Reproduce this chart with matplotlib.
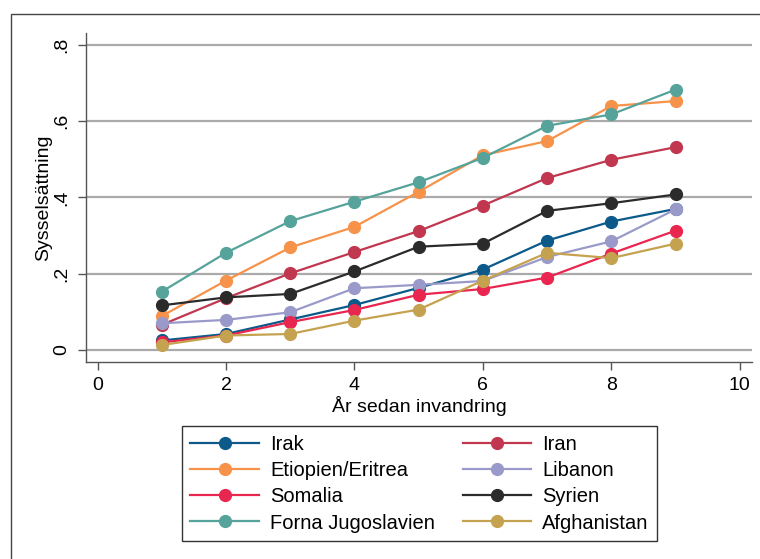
import matplotlib
matplotlib.use("Agg")
import matplotlib.pyplot as plt
from matplotlib.patches import Rectangle

plt.rcParams["font.family"] = ["Liberation Sans", "DejaVu Sans"]

years = [1, 2, 3, 4, 5, 6, 7, 8, 9]

irak = [0.025, 0.042, 0.080, 0.118, 0.163, 0.211, 0.287, 0.337, 0.370]
iran = [0.066, 0.136, 0.201, 0.257, 0.312, 0.379, 0.451, 0.499, 0.532]
etiopien = [0.089, 0.182, 0.269, 0.323, 0.415, 0.511, 0.548, 0.640, 0.653]
libanon = [0.070, 0.079, 0.099, 0.162, 0.171, 0.181, 0.244, 0.285, 0.369]
somalia = [0.020, 0.038, 0.073, 0.105, 0.145, 0.160, 0.190, 0.253, 0.313]
syrien = [0.117, 0.138, 0.147, 0.206, 0.271, 0.279, 0.365, 0.385, 0.408]
jugoslavien = [0.153, 0.255, 0.338, 0.389, 0.440, 0.504, 0.588, 0.618, 0.683]
afghanistan = [0.013, 0.038, 0.042, 0.077, 0.106, 0.182, 0.255, 0.241, 0.279]

series = [
    ("Irak", irak, "#0b5a8a"),
    ("Iran", iran, "#c0374f"),
    ("Etiopien/Eritrea", etiopien, "#f6924a"),
    ("Libanon", libanon, "#9a9aca"),
    ("Somalia", somalia, "#e8264f"),
    ("Syrien", syrien, "#2b2b2b"),
    ("Forna Jugoslavien", jugoslavien, "#55a39a"),
    ("Afghanistan", afghanistan, "#c5a24f"),
]

W, H = 760, 559
fig = plt.figure(figsize=(W / 100, H / 100), dpi=100)

# outer graph frame (cropped on the right and bottom)
fig.patches.append(Rectangle((11 / W, -0.2), 1.2, 1 - 14 / H + 0.2,
                             transform=fig.transFigure, fill=False,
                             edgecolor="#444444", linewidth=1.0))

ax = fig.add_axes([86 / W, 1 - 362 / H, (752 - 86) / W, (362 - 33) / H])

handles = {}
for name, vals, col in series:
    (h,) = ax.plot(years, vals, color=col, linewidth=1.6, marker="o",
                   markersize=8.5, label=name)
    handles[name] = h

ax.set_xlim(-0.18, 10.19)
ax.set_ylim(-0.0315, 0.8315)

yt = [0, 0.2, 0.4, 0.6, 0.8]
ax.set_yticks(yt)
ax.set_yticklabels(["0", ".2", ".4", ".6", ".8"], rotation=90, va="center")
ax.set_xticks([0, 2, 4, 6, 8, 10])
for y in yt:
    ax.axhline(y, color="#aaaaaa", linewidth=1.6, zorder=0)

for s in ["top", "right"]:
    ax.spines[s].set_visible(False)
for s in ["left", "bottom"]:
    ax.spines[s].set_color("#555555")
    ax.spines[s].set_linewidth(1.0)

ax.tick_params(direction="out", length=6, width=1.0, color="#555555",
               labelsize=14, pad=5)
ax.set_xlabel("År sedan invandring", fontsize=14, labelpad=1)
ax.set_ylabel("Sysselsättning", fontsize=14, labelpad=1)

order = ["Irak", "Etiopien/Eritrea", "Somalia", "Forna Jugoslavien",
         "Iran", "Libanon", "Syrien", "Afghanistan"]
leg = fig.legend([handles[n] for n in order], order, ncol=2,
                 loc="lower left", mode="expand",
                 bbox_to_anchor=(182 / W, 1 - 541 / H, (657 - 182) / W, (541 - 424) / H),
                 fontsize=14.5, frameon=True, fancybox=False,
                 handlelength=3.4, handletextpad=0.55, labelspacing=0.36,
                 borderaxespad=0, borderpad=0.42, columnspacing=1.5)
leg.get_frame().set_edgecolor("#000000")
leg.get_frame().set_linewidth(1.0)

fig.savefig("out.png", dpi=100)
